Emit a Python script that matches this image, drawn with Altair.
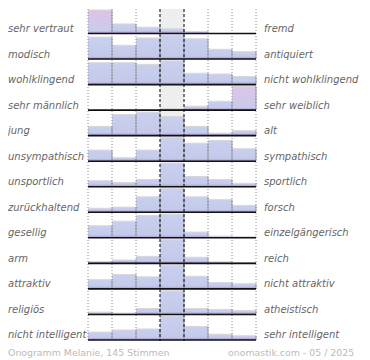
import altair as alt
import pandas as pd

left_labels = ["sehr vertraut", "modisch", "wohlklingend", "sehr männlich", " jung",
               "unsympathisch", "unsportlich", "zurückhaltend", "gesellig", "arm",
               "attraktiv", "religiös", "nicht intelligent"]
right_labels = ["fremd", "antiquiert", "nicht wohlklingend", "sehr weiblich", "alt",
                "sympathisch", "sportlich", "forsch", "einzelgängerisch", "reich",
                "nicht attraktiv", "atheistisch", "sehr intelligent"]
# votes per scale step (7 steps, middle = neutral)
votes = [
    [74, 30, 20, 15, 6, 0, 0],
    [27, 17, 26, 29, 25, 12, 9],
    [27, 27, 25, 29, 14, 13, 10],
    [0, 0, 0, 6, 15, 34, 90],
    [15, 34, 38, 31, 15, 4, 8],
    [16, 5, 16, 34, 26, 30, 18],
    [14, 10, 17, 55, 24, 17, 8],
    [7, 9, 27, 41, 27, 22, 12],
    [21, 29, 39, 41, 10, 3, 2],
    [6, 11, 23, 77, 20, 5, 3],
    [16, 25, 21, 41, 22, 11, 9],
    [7, 4, 18, 71, 18, 15, 12],
    [15, 19, 21, 45, 26, 11, 8],
]
n_votes = 145
footer_left = f"Onogramm Melanie, {n_votes} Stimmen"
footer_right = "onomastik.com - 05 / 2025"

nrow = len(votes)
ncol = len(votes[0])
mid = ncol // 2

df = pd.DataFrame([
    {"row": r, "col": c, "count": v}
    for r, rowv in enumerate(votes) for c, v in enumerate(rowv)
])
rows_df = pd.DataFrame({"row": list(range(nrow)), "left": left_labels, "right": right_labels})
grid_df = pd.DataFrame({"g": [g for g in range(ncol + 1) if g not in (mid, mid + 1)]})
mid_df = pd.DataFrame({"g": [mid, mid + 1]})
bg_df = pd.DataFrame({"a": [mid], "b": [mid + 1], "y0": [0], "y1": [nrow]})
line_df = pd.DataFrame({"g": list(range(ncol + 1))})
foot_df = pd.DataFrame({"t": [footer_left]})
foot2_df = pd.DataFrame({"t": [footer_right]})

W, H = 168, 332
xs = alt.Scale(domain=[0, ncol], nice=False, zero=False)
ys = alt.Scale(domain=[0, nrow], reverse=True, nice=False, zero=False)
font = "DejaVu Sans"


def grad(c0, c1):
    return {"gradient": "linear", "x1": 0, "x2": 0, "y1": 0, "y2": 1,
            "stops": [{"offset": 0, "color": c0}, {"offset": 1, "color": c1}]}


bars = alt.Chart(df).transform_joinaggregate(
    mx="max(count)", groupby=["row"]
).transform_calculate(
    base="datum.row + 0.96",
    top="datum.row + 0.96 - datum.count / datum.mx * 0.92",
    band="datum.row + 0.96 - min(0.11, datum.count / datum.mx * 0.92)",
    x1="datum.col",
    x2="datum.col + 1",
    share=f"datum.count / {n_votes}",
).transform_filter("datum.count > 0")

is_pink = f"datum.share > 0.45 && datum.col != {mid}"

X1 = alt.X("x1:Q", scale=xs, axis=None)
X2 = alt.X2("x2:Q")
YB = alt.Y("base:Q", scale=ys, axis=None)

bg = alt.Chart(bg_df).mark_rect(color="#eeeeee").encode(
    x=alt.X("a:Q", scale=xs, axis=None), x2="b:Q",
    y=alt.Y("y0:Q", scale=ys, axis=None), y2="y1:Q")

blue = bars.transform_filter(f"!({is_pink})").mark_rect(
    fill=grad("#c9d0ee", "#c3c8e8")).encode(x=X1, x2=X2, y=YB, y2="top:Q")
pink = bars.transform_filter(is_pink).mark_rect(
    fill=grad("#dcc5e6", "#c8cbea")).encode(x=X1, x2=X2, y=YB, y2="top:Q")
band = bars.mark_rect(fill=grad("rgba(170,150,210,0)", "#a28fcf")).encode(
    x=X1, x2=X2, y=YB, y2="band:Q")
top_edge = bars.mark_rule(color="#d6d6de", strokeWidth=1).encode(
    x=X1, x2=X2, y=alt.Y("top:Q", scale=ys, axis=None))
right_edge = bars.mark_rule(color="#9a9aa6", strokeWidth=1).encode(
    x=alt.X("x2:Q", scale=xs, axis=None), y=YB, y2="top:Q")

vlines = alt.Chart(grid_df).transform_calculate(y0="0", y1=str(nrow))
dotted = vlines.mark_rule(color="#888888", strokeDash=[1, 2], strokeWidth=1).encode(
    x=alt.X("g:Q", scale=xs, axis=None), y=alt.Y("y0:Q", scale=ys, axis=None), y2="y1:Q")
dashed = alt.Chart(mid_df).transform_calculate(y0="0", y1=str(nrow)).mark_rule(
    color="#000000", strokeDash=[3, 2], strokeWidth=1).encode(
    x=alt.X("g:Q", scale=xs, axis=None), y=alt.Y("y0:Q", scale=ys, axis=None), y2="y1:Q")

baselines = alt.Chart(rows_df).transform_calculate(
    yb="datum.row + 0.96", xa="0", xb=str(ncol)).mark_rule(
    color="#111111", strokeWidth=1.6).encode(
    x=alt.X("xa:Q", scale=xs, axis=None), x2="xb:Q", y=alt.Y("yb:Q", scale=ys, axis=None))

lab_l = alt.Chart(rows_df).transform_calculate(yt="datum.row + 0.9").mark_text(
    align="left", baseline="alphabetic", font=font, fontSize=10, fontStyle="italic",
    color="#666666").encode(x=alt.value(-80), y=alt.Y("yt:Q", scale=ys, axis=None), text="left:N")
lab_r = alt.Chart(rows_df).transform_calculate(yt="datum.row + 0.9").mark_text(
    align="left", baseline="alphabetic", font=font, fontSize=10, fontStyle="italic",
    color="#666666").encode(x=alt.value(W + 8), y=alt.Y("yt:Q", scale=ys, axis=None), text="right:N")

foot_l = alt.Chart(foot_df).mark_text(
    align="left", baseline="middle", font=font, fontSize=9.4, color="#bbbbbb").encode(
    x=alt.value(-80), y=alt.value(H + 12), text="t:N")
foot_r = alt.Chart(foot2_df).mark_text(
    align="left", baseline="middle", font=font, fontSize=9.4, color="#bbbbbb").encode(
    x=alt.value(140), y=alt.value(H + 12), text="t:N")

chart = alt.layer(bg, blue, pink, band, top_edge, right_edge, dotted, dashed, baselines,
                  lab_l, lab_r, foot_l, foot_r).properties(
    width=W, height=H, padding=0
).configure_view(stroke=None)

chart.save("out.html", embed_options={"renderer": "svg", "actions": False})
